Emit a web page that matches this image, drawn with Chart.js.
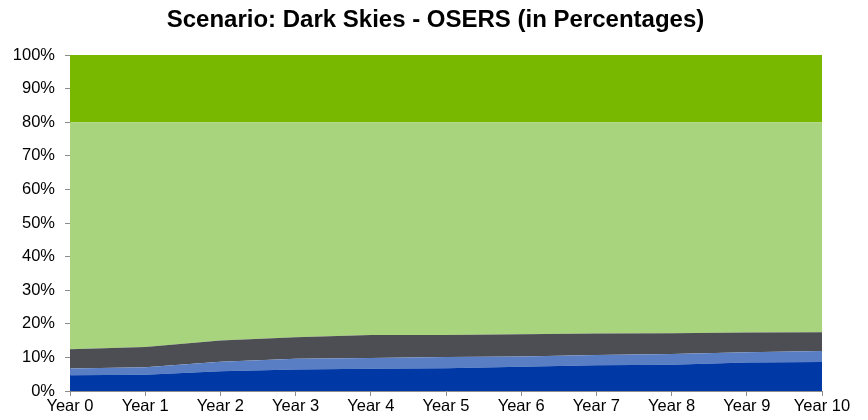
<!DOCTYPE html>
<html>
<head>
<meta charset="utf-8">
<script src="https://cdn.jsdelivr.net/npm/chart.js@4/dist/chart.umd.min.js"></script>
<style>
html,body{margin:0;padding:0;background:#fff;}
#wrap{width:868px;height:420px;}
</style>
</head>
<body>
<div id="wrap"><canvas id="c" width="868" height="420"></canvas></div>
<script>
const categories = ['Year 0','Year 1','Year 2','Year 3','Year 4','Year 5','Year 6','Year 7','Year 8','Year 9','Year 10'];
const seriesDarkBlue   = [4.7, 4.8, 5.9, 6.4, 6.6, 6.8, 7.2, 7.7, 7.8, 8.5, 8.6];
const seriesMidBlue    = [2.0, 2.3, 2.8, 3.2, 3.2, 3.3, 3.1, 3.0, 3.2, 3.0, 3.3];
const seriesGray       = [5.7, 6.0, 6.3, 6.4, 6.9, 6.6, 6.6, 6.4, 6.2, 5.9, 5.6];
const seriesLightGreen = [67.6, 66.9, 65.0, 64.0, 63.3, 63.3, 63.1, 62.9, 62.8, 62.6, 62.5];
const seriesGreen      = [20, 20, 20, 20, 20, 20, 20, 20, 20, 20, 20];
const yTicks = [0,10,20,30,40,50,60,70,80,90,100];
const titleText = 'Scenario: Dark Skies - OSERS (in Percentages)';

const colors = ['#0038A6', '#5A7EC3', '#4D4E53', '#A8D47E', '#78B800'];
const seriesList = [seriesDarkBlue, seriesMidBlue, seriesGray, seriesLightGreen, seriesGreen];
const names = ['S1','S2','S3','S4','S5'];

const datasets = seriesList.map((d, i) => ({
  label: names[i],
  data: d,
  backgroundColor: colors[i],
  borderColor: colors[i],
  borderWidth: 0,
  pointRadius: 0,
  fill: i === 0 ? 'origin' : '-1',
  tension: 0
}));

const FONT = 'Liberation Sans, Arial, sans-serif';

const titlePlugin = {
  id: 'centeredTitle',
  afterDraw(chart) {
    const ctx = chart.ctx;
    ctx.save();
    ctx.font = 'bold 24px ' + FONT;
    ctx.fillStyle = '#000';
    ctx.textAlign = 'center';
    ctx.textBaseline = 'middle';
    ctx.fillText(titleText, 435.5, 20);
    ctx.restore();
  }
};

new Chart(document.getElementById('c'), {
  type: 'line',
  data: { labels: categories, datasets },
  plugins: [titlePlugin],
  options: {
    responsive: false,
    animation: false,
    layout: { padding: { left: 0, right: 46, top: 55, bottom: 0 } },
    plugins: {
      legend: { display: false },
      tooltip: { enabled: false },
      title: { display: false }
    },
    scales: {
      x: {
        offset: false,
        grid: { display: true, drawOnChartArea: false, color: '#8c8c8c', tickLength: 5 },
        border: { color: '#8c8c8c', width: 1 },
        ticks: { color: '#000', font: { family: FONT, size: 16.5 }, maxRotation: 0, autoSkip: false, padding: 1 },
        afterFit: (s) => { s.height = 29; }
      },
      y: {
        stacked: true,
        min: 0, max: 100,
        afterBuildTicks: (s) => { s.ticks = yTicks.map(v => ({ value: v })); },
        grid: { display: true, drawOnChartArea: false, color: '#8c8c8c', tickLength: 5 },
        border: { color: '#8c8c8c', width: 1 },
        ticks: { color: '#000', font: { family: FONT, size: 16.5 }, padding: 10, callback: (v) => v + '%' },
        afterFit: (s) => { s.width = 70; }
      }
    }
  }
});
</script>
</body>
</html>
